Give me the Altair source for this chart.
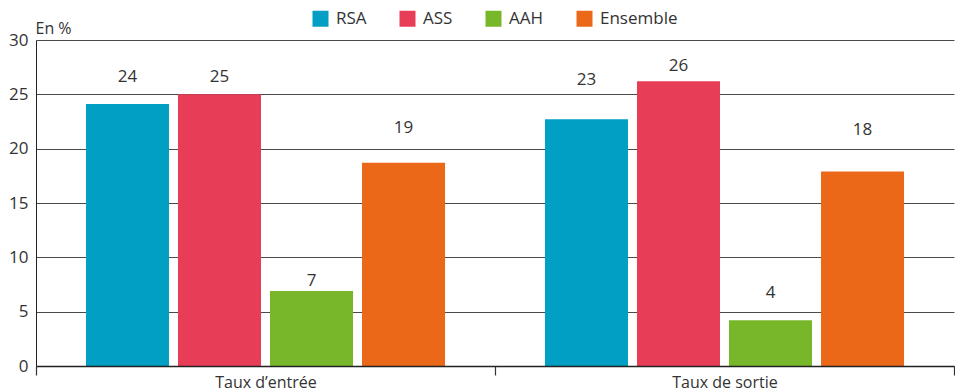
import altair as alt
import pandas as pd

groups = ["Taux d’entrée", "Taux de sortie"]
series = ["RSA", "ASS", "AAH", "Ensemble"]
colors = ["#009FC3", "#E83D57", "#78B729", "#EA6817"]

values_entree = [24.1, 25.0, 6.9, 18.7]
values_sortie = [22.7, 26.2, 4.2, 17.9]
labels_entree = ["24", "25", "7", "19"]
labels_sortie = ["23", "26", "4", "18"]
label_y_entree = [26.6, 26.6, 7.85, 21.9]
label_y_sortie = [26.3, 27.6, 6.7, 21.7]

rows = []
for g, vals, labs, ly in [
    (groups[0], values_entree, labels_entree, label_y_entree),
    (groups[1], values_sortie, labels_sortie, label_y_sortie),
]:
    for s, v, l, y in zip(series, vals, labs, ly):
        rows.append({"group": g, "series": s, "value": v, "label": l, "label_y": y})
df = pd.DataFrame(rows)

FONT = "Open Sans"
TXT = "#333333"

x_enc = alt.X(
    "group:N",
    sort=groups,
    scale=alt.Scale(paddingInner=0, paddingOuter=0),
    axis=alt.Axis(
        title=None,
        labelAngle=0,
        labelFont=FONT,
        labelFontSize=16,
        labelColor=TXT,
        labelBaseline="alphabetic",
        labelPadding=12,
        tickBand="extent",
        tickSize=9,
        tickColor="#333333",
        tickWidth=1.2,
        domainColor="#222222",
        domainWidth=1.6,
        grid=False,
        zindex=1,
    ),
)
xoff_enc = alt.XOffset(
    "series:N", sort=series, scale=alt.Scale(paddingInner=0.0978, paddingOuter=0.543)
)
y_scale = alt.Scale(domain=[0, 30], nice=False)

bars = alt.Chart(df).mark_bar().encode(
    x=x_enc,
    xOffset=xoff_enc,
    y=alt.Y(
        "value:Q",
        scale=y_scale,
        axis=alt.Axis(
            values=[0, 5, 10, 15, 20, 25, 30],
            title="En %",
            titleAngle=0,
            titleAlign="left",
            titleBaseline="alphabetic",
            titleX=-1,
            titleY=-7,
            titleFontWeight="normal",
            titleFontSize=16,
            titleColor=TXT,
            titleFont=FONT,
            labelFont=FONT,
            labelFontSize=17,
            labelColor=TXT,
            ticks=False,
            labelPadding=8,
            domainColor="#222222",
            gridColor="#4a4a4a",
            gridWidth=1,
        ),
    ),
    color=alt.Color(
        "series:N",
        sort=series,
        scale=alt.Scale(domain=series, range=colors),
        legend=alt.Legend(
            title=None,
            orient="none",
            direction="horizontal",
            legendX=276,
            legendY=-30,
            symbolType="square",
            symbolSize=256,
            symbolStrokeWidth=0,
            symbolOpacity=1,
            labelFontSize=17,
            labelFont=FONT,
            labelColor=TXT,
            labelOffset=7,
            columnPadding=32,
            padding=0,
        ),
    ),
)

text = alt.Chart(df).mark_text(
    fontSize=17, font=FONT, color=TXT, baseline="middle", align="center"
).encode(
    x=alt.X("group:N", sort=groups),
    xOffset=alt.XOffset("series:N", sort=series),
    y=alt.Y("label_y:Q", scale=y_scale),
    text="label:N",
)

chart = (
    alt.layer(bars, text)
    .properties(
        width=918,
        height=326,
        padding={"left": 36, "top": 40, "right": 1, "bottom": 25},
        autosize=alt.AutoSizeParams(type="none"),
        background="white",
    )
    .configure_view(stroke=None)
)

chart.save("out.html", embed_options={"renderer": "svg", "actions": False})
